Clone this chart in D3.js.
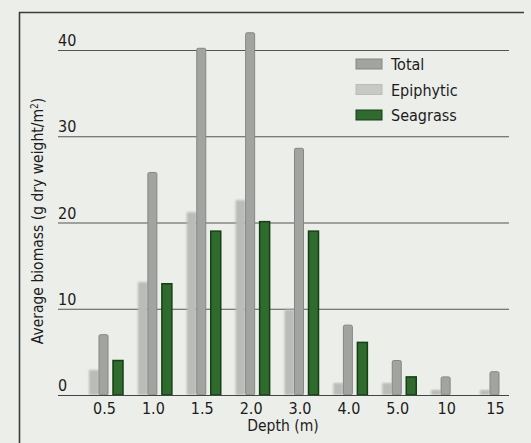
<!DOCTYPE html>
<html>
<head>
<meta charset="utf-8">
<script src="https://cdn.jsdelivr.net/npm/d3@7"></script>
<style>
  body { margin: 0; background: #eceeea; }
  svg { display: block; }
  text { font-family: "DejaVu Sans Condensed", "DejaVu Sans", sans-serif; fill: #1c1c1c; }
</style>
</head>
<body>
<div id="chart"></div>
<script>
// Data
const depths = ['0.5', '1.0', '1.5', '2.0', '3.0', '4.0', '5.0', '10', '15']
const total = [7, 25.8, 40.2, 42, 28.6, 8.1, 4, 2.1, 2.7]
const epiphytic = [2.9, 13.1, 21.2, 22.6, 9.9, 1.4, 1.4, 0.6, 0.6]
const seagrass = [4, 12.9, 19, 20.1, 19, 6.1, 2.1, 0, 0]
const yTicks = [0, 10, 20, 30, 40]
const seriesNames = ['Total', 'Epiphytic', 'Seagrass']

const width = 531,
  height = 443

const svg = d3.select('#chart')
  .append('svg')
  .attr('width', width)
  .attr('height', height)

svg.append('rect')
  .attr('width', width)
  .attr('height', height)
  .attr('fill', '#eceeea')

const defs = svg.append('defs')
defs.append('filter')
  .attr('id', 'soft')
  .attr('x', '-50%').attr('y', '-5%')
  .attr('width', '200%').attr('height', '110%')
  .append('feGaussianBlur')
  .attr('stdDeviation', 1.2)

// frame
svg.append('path')
  .attr('d', 'M19.5,443 V12.5 H524')
  .attr('fill', 'none')
  .attr('stroke', '#3a3d3a')
  .attr('stroke-width', 1.6)

const x = d3.scalePoint()
  .domain(depths)
  .range([104, 495])

const y = d3.scaleLinear()
  .domain([0, 40])
  .range([395, 50])

// gridlines + labels above lines
const grid = svg.append('g')
grid.selectAll('line')
  .data(yTicks)
  .enter()
  .append('line')
  .attr('x1', 58)
  .attr('x2', 509)
  .attr('y1', d => y(d) + 0.5)
  .attr('y2', d => y(d) + 0.5)
  .attr('stroke', '#555')
  .attr('stroke-width', 1)
grid.selectAll('text')
  .data(yTicks)
  .enter()
  .append('text')
  .attr('x', 58)
  .attr('y', d => y(d) - 4)
  .attr('font-size', 16)
  .text(d => d)

// bars: offsets within each depth group
const offsets = { Epiphytic: -15, Total: -5, Seagrass: 9 }
const widths = { Epiphytic: 10, Total: 9, Seagrass: 10 }

const bars = svg.append('g')

bars.selectAll('rect.epi')
  .data(epiphytic)
  .enter()
  .append('rect')
  .attr('class', 'epi')
  .attr('x', (d, i) => x(depths[i]) + offsets.Epiphytic)
  .attr('y', d => y(d))
  .attr('width', widths.Epiphytic)
  .attr('height', d => y(0) - y(d))
  .attr('fill', '#b9bcb8')
  .attr('filter', 'url(#soft)')

bars.selectAll('rect.tot')
  .data(total)
  .enter()
  .append('rect')
  .attr('class', 'tot')
  .attr('x', (d, i) => x(depths[i]) + offsets.Total)
  .attr('y', d => y(d))
  .attr('width', widths.Total)
  .attr('height', d => y(0) - y(d))
  .attr('rx', 1.5)
  .attr('fill', '#a2a4a1')
  .attr('stroke', '#858784')
  .attr('stroke-width', 1)

bars.selectAll('rect.sea')
  .data(seagrass)
  .enter()
  .append('rect')
  .attr('class', 'sea')
  .attr('x', (d, i) => x(depths[i]) + offsets.Seagrass)
  .attr('y', d => y(d))
  .attr('width', widths.Seagrass)
  .attr('height', d => y(0) - y(d))
  .attr('fill', '#2f6b2c')
  .attr('stroke', '#173f17')
  .attr('stroke-width', 1.5)

// baseline over bars
svg.append('line')
  .attr('x1', 58).attr('x2', 509)
  .attr('y1', y(0) + 0.5).attr('y2', y(0) + 0.5)
  .attr('stroke', '#444')

// x axis labels
const xAxis = d3.axisBottom(x).tickSize(0).tickPadding(8)
const xg = svg.append('g')
  .attr('transform', `translate(0,${y(0)})`)
  .call(xAxis)
xg.select('.domain').remove()
xg.selectAll('text')
  .attr('font-size', 16)
  .attr('font-family', '"DejaVu Sans Condensed", "DejaVu Sans", sans-serif')
  .attr('fill', '#1c1c1c')

svg.append('text')
  .attr('x', 283)
  .attr('y', 431)
  .attr('text-anchor', 'middle')
  .attr('font-size', 15.5)
  .text('Depth (m)')

const yl = svg.append('text')
  .attr('transform', 'translate(43,221) rotate(-90)')
  .attr('text-anchor', 'middle')
  .attr('font-size', 15.5)
yl.append('tspan').text('Average biomass (g dry weight/m')
yl.append('tspan').attr('baseline-shift', 'super').attr('font-size', 10).text('2')
yl.append('tspan').text(')')

// legend
const legendFill = { Total: '#a2a4a1', Epiphytic: '#c6c9c5', Seagrass: '#2f6b2c' }
const legendStroke = { Total: '#858784', Epiphytic: '#b9bcb8', Seagrass: '#173f17' }
const legend = svg.append('g')
  .attr('transform', 'translate(356,59)')
const li = legend.selectAll('g')
  .data(seriesNames)
  .enter()
  .append('g')
  .attr('transform', (d, i) => `translate(0,${i * 25.5})`)
li.append('rect')
  .attr('width', 26)
  .attr('height', 10)
  .attr('fill', d => legendFill[d])
  .attr('stroke', d => legendStroke[d])
li.append('text')
  .attr('x', 35)
  .attr('y', 11)
  .attr('font-size', 16)
  .text(d => d)
</script>
</body>
</html>
